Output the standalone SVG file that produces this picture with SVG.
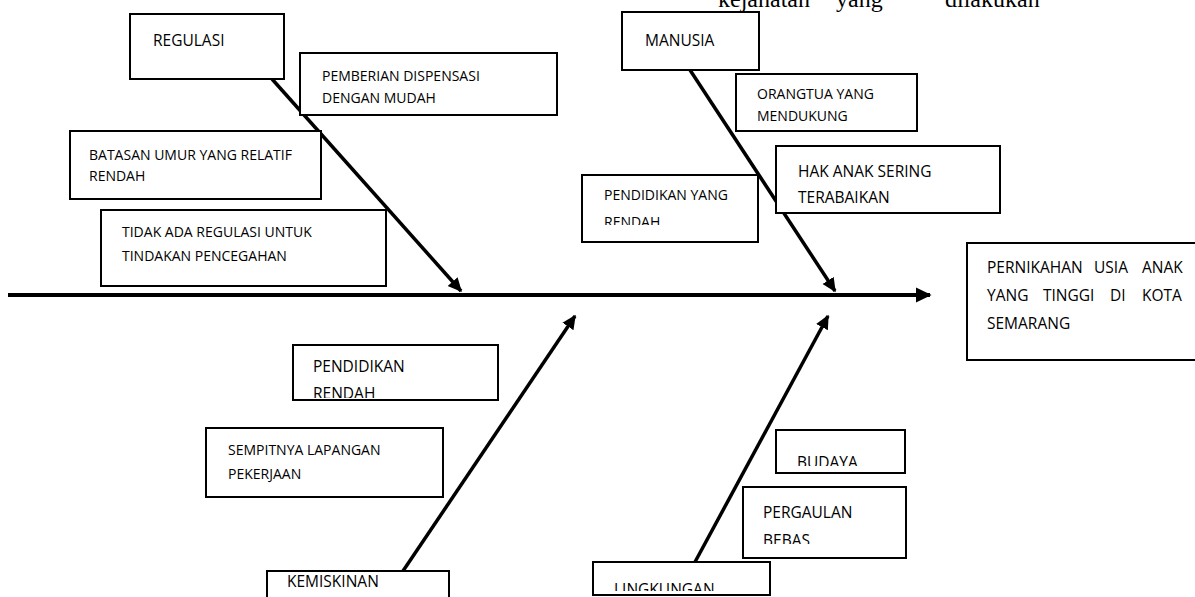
<svg xmlns="http://www.w3.org/2000/svg" width="1195" height="597" viewBox="0 0 1195 597">
<style>
.box{fill:#fff;stroke:#000;stroke-width:2}
.t{font-family:"Open Sans","Liberation Sans",sans-serif;fill:#000}
.s{font-size:14px}
.m{font-size:15.5px}
.ln{stroke:#000;stroke-width:3.5;fill:none}
.spine{stroke:#000;stroke-width:4;fill:none}
.top{font-family:"Liberation Serif",serif;font-size:24px;fill:#000}
</style>
<defs>
<marker id="ah" markerWidth="5" markerHeight="5" refX="3.6" refY="2.5" orient="auto" markerUnits="strokeWidth">
<path d="M0,0.6 L4,2.5 L0,4.4 Z" fill="#000"/>
</marker>
<clipPath id="c1"><rect x="582" y="175" width="176" height="50"/></clipPath>
<clipPath id="c2"><rect x="293" y="345" width="205" height="53"/></clipPath>
<clipPath id="c3"><rect x="776" y="430" width="129" height="36"/></clipPath>
<clipPath id="c4"><rect x="743" y="487" width="163" height="57"/></clipPath>
<clipPath id="c5"><rect x="593" y="562" width="177" height="29"/></clipPath>
</defs>

<text class="top" y="7"><tspan x="718">kejahatan</tspan><tspan x="836">yang</tspan><tspan x="945">dilakukan</tspan></text>

<g id="connectors">
<line class="spine" x1="8" y1="295" x2="930" y2="295" marker-end="url(#ah)"/>
<line class="ln" x1="272" y1="79" x2="461" y2="291" marker-end="url(#ah)"/>
<line class="ln" x1="690" y1="70" x2="835" y2="291" marker-end="url(#ah)"/>
<line class="ln" x1="403" y1="571" x2="575" y2="316" marker-end="url(#ah)"/>
<line class="ln" x1="695" y1="562" x2="828" y2="316" marker-end="url(#ah)"/>
</g>

<g id="regulasi"><rect class="box" x="130" y="14" width="154" height="65"/><text class="t m" x="153" y="46">REGULASI</text></g>
<g id="pemberian"><rect class="box" x="300" y="53" width="257" height="62"/><text class="t s" x="322" y="81">PEMBERIAN DISPENSASI</text><text class="t s" x="322" y="103">DENGAN MUDAH</text></g>
<g id="batasan"><rect class="box" x="70" y="131" width="251" height="68"/><text class="t s" x="89" y="160">BATASAN UMUR YANG RELATIF</text><text class="t s" x="89" y="181">RENDAH</text></g>
<g id="tidak-ada"><rect class="box" x="101" y="210" width="285" height="76"/><text class="t s" x="122" y="237">TIDAK ADA REGULASI UNTUK</text><text class="t s" x="122" y="261">TINDAKAN PENCEGAHAN</text></g>

<g id="manusia"><rect class="box" x="622" y="12" width="137" height="58"/><text class="t m" x="645" y="46">MANUSIA</text></g>
<g id="orangtua"><rect class="box" x="736" y="74" width="181" height="57"/><text class="t s" x="757" y="99">ORANGTUA YANG</text><text class="t s" x="757" y="121">MENDUKUNG</text></g>
<g id="hak-anak"><rect class="box" x="776" y="146" width="224" height="67"/><text class="t m" x="798" y="177">HAK ANAK SERING</text><text class="t m" x="798" y="203">TERABAIKAN</text></g>
<g id="pendidikan-yang-rendah"><rect class="box" x="582" y="175" width="176" height="67"/><g clip-path="url(#c1)"><text class="t s" x="604" y="200">PENDIDIKAN YANG</text><text class="t s" x="604" y="227">RENDAH</text></g></g>

<g id="effect"><rect class="box" x="967" y="243" width="240" height="117"/>
<text class="t m" y="273"><tspan x="987">PERNIKAHAN</tspan><tspan x="1094">USIA</tspan><tspan x="1142">ANAK</tspan></text>
<text class="t m" y="301"><tspan x="987">YANG</tspan><tspan x="1043">TINGGI</tspan><tspan x="1110">DI</tspan><tspan x="1142">KOTA</tspan></text>
<text class="t m" x="987" y="329">SEMARANG</text></g>

<g id="pendidikan-rendah"><rect class="box" x="293" y="345" width="205" height="55"/><g clip-path="url(#c2)"><text class="t m" x="313" y="372">PENDIDIKAN</text><text class="t m" x="313" y="399">RENDAH</text></g></g>
<g id="sempitnya"><rect class="box" x="206" y="428" width="237" height="69"/><text class="t s" x="228" y="455">SEMPITNYA LAPANGAN</text><text class="t s" x="228" y="479">PEKERJAAN</text></g>
<g id="kemiskinan"><rect class="box" x="267" y="571" width="182" height="40"/><text class="t m" x="287" y="587">KEMISKINAN</text></g>

<g id="budaya"><rect class="box" x="776" y="430" width="129" height="43"/><g clip-path="url(#c3)"><text class="t m" x="797" y="468">BUDAYA</text></g></g>
<g id="pergaulan"><rect class="box" x="743" y="487" width="163" height="71"/><g clip-path="url(#c4)"><text class="t m" x="763" y="518">PERGAULAN</text><text class="t m" x="763" y="546">BEBAS</text></g></g>
<g id="lingkungan"><rect class="box" x="593" y="562" width="177" height="33"/><g clip-path="url(#c5)"><text class="t m" x="614" y="595">LINGKUNGAN</text></g></g>
</svg>
